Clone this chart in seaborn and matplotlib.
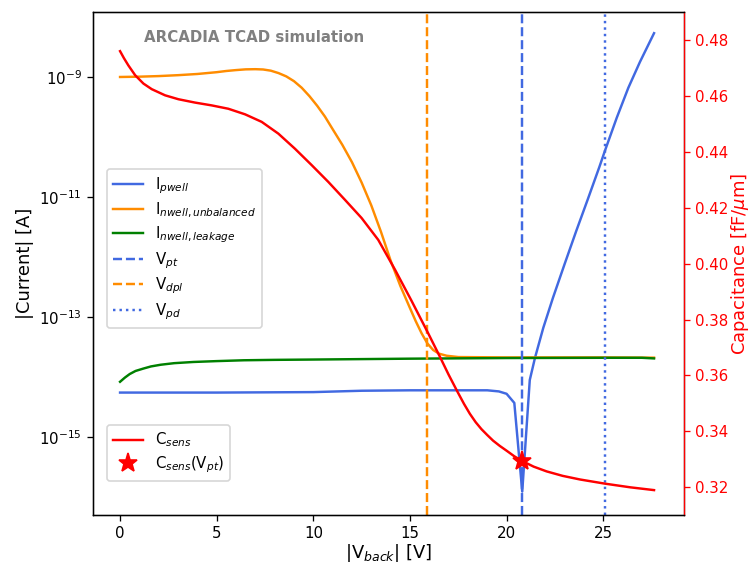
import matplotlib
matplotlib.use("Agg")
import matplotlib.pyplot as plt
import seaborn as sns
import numpy as np
from matplotlib.ticker import NullLocator

# ---------------- data ----------------
v_pwell = [0, 2.5, 5, 7.5, 10, 12.5, 15, 17.5, 19, 19.6, 20.0, 20.4, 20.81,
           21.2, 21.47, 21.9, 22.4, 23.0, 23.6, 24.2, 24.8, 25.1, 25.7, 26.3,
           26.9, 27.63]
i_pwell = [5.5e-15, 5.5e-15, 5.5e-15, 5.55e-15, 5.6e-15, 5.9e-15, 6.0e-15, 6.0e-15,
           6.0e-15, 5.75e-15, 5.25e-15, 3.7e-15, 1.23e-16,
           8.91e-15, 2.09e-14, 6.61e-14, 2.09e-13, 7.59e-13, 2.69e-12, 9.12e-12,
           3.16e-11, 6.03e-11, 2.09e-10, 6.61e-10, 1.78e-9, 5.37e-9]

v_unbal = [0, 1, 2, 3, 4, 5, 5.5, 6, 6.5, 7, 7.4, 7.8, 8.2, 8.6, 9.0, 9.4, 9.8,
           10.2, 10.6, 11.0, 11.5, 12, 12.5, 13, 13.5, 14, 14.5, 15, 15.3, 15.6,
           15.9, 16.2, 16.5, 16.9, 17.5, 20, 25, 27.63]
i_unbal = [1.0e-9, 1.012e-9, 1.035e-9, 1.072e-9, 1.122e-9, 1.202e-9, 1.259e-9,
           1.303e-9, 1.340e-9, 1.349e-9, 1.334e-9, 1.274e-9, 1.161e-9, 1.023e-9,
           8.51e-10, 6.61e-10, 4.79e-10, 3.31e-10, 2.19e-10, 1.35e-10, 7.41e-11,
           3.80e-11, 1.74e-11, 7.24e-12, 2.63e-12, 8.71e-13, 3.31e-13, 1.41e-13,
           8.51e-14, 5.37e-14, 3.63e-14, 2.82e-14, 2.45e-14, 2.26e-14, 2.15e-14,
           2.12e-14, 2.12e-14, 2.10e-14]

v_leak = [0, 0.25, 0.5, 0.8, 1.2, 1.6, 2.1, 2.8, 3.8, 5, 6.4, 8, 9.7, 15, 20,
          25, 27, 27.63]
i_leak = [8.32e-15, 9.77e-15, 1.12e-14, 1.26e-14, 1.38e-14, 1.50e-14, 1.60e-14,
          1.70e-14, 1.78e-14, 1.84e-14, 1.90e-14, 1.93e-14, 1.95e-14, 2.02e-14,
          2.07e-14, 2.09e-14, 2.09e-14, 2.04e-14]

v_csens = [0, 0.2, 0.43, 0.78, 1.21, 1.64, 2.33, 3.02, 3.88, 4.74, 5.6, 6.47,
           7.33, 8.19, 9.05, 9.92, 10.78, 11.64, 12.5, 13.36, 14.23, 15.09, 15.95,
           16.55, 17.0, 17.45, 17.8, 18.1, 18.4, 18.7, 19.0, 19.3, 19.65, 20.0,
           20.4, 20.81, 21.4, 22.07, 22.9, 23.8, 25.1, 26.4, 27.63]
c_sens = [0.4760, 0.4735, 0.4709, 0.4674, 0.4644, 0.4624, 0.4602, 0.4588, 0.4576,
          0.4566, 0.4554, 0.4534, 0.4507, 0.4465, 0.4411, 0.4352, 0.4292, 0.4228,
          0.4163, 0.4085, 0.3978, 0.3866, 0.3750, 0.3667, 0.3603, 0.3543, 0.3498,
          0.3463, 0.3433, 0.3408, 0.3387, 0.3367, 0.3348, 0.3331, 0.3311, 0.3294,
          0.3274, 0.3257, 0.3241, 0.3228, 0.3213, 0.3200, 0.3190]

v_pt = 20.81
v_dpl = 15.9
v_pd = 25.1
c_at_vpt = 0.3294

left_ticks = [1e-9, 1e-11, 1e-13, 1e-15]
x_ticks = [0, 5, 10, 15, 20, 25]
right_ticks = [0.32, 0.34, 0.36, 0.38, 0.40, 0.42, 0.44, 0.46, 0.48]

# ---------------- figure ----------------
FS = 9.2
plt.rcParams.update({"xtick.labelsize": FS, "ytick.labelsize": FS,
                     "legend.fontsize": FS, "legend.labelspacing": 0.33})
DPI = 117.1875
fig = plt.figure(figsize=(750 / DPI, 564 / DPI), dpi=DPI)
ax = fig.add_axes([93 / 750, 1 - 515 / 564, (684 - 93) / 750, (515 - 12) / 564])
ax.set_yscale("log")

c_blue, c_orange, c_green = "royalblue", "darkorange", "green"

sns.lineplot(x=v_pwell, y=i_pwell, ax=ax, color=c_blue, lw=1.5, estimator=None,
             sort=False, label=r"I$_{pwell}$")
sns.lineplot(x=v_unbal, y=i_unbal, ax=ax, color=c_orange, lw=1.5, estimator=None,
             sort=False, label=r"I$_{nwell, unbalanced}$")
sns.lineplot(x=v_leak, y=i_leak, ax=ax, color=c_green, lw=1.5, estimator=None,
             sort=False, label=r"I$_{nwell, leakage}$")
ax.axvline(v_pt, color=c_blue, ls="--", lw=1.5, label=r"V$_{pt}$")
ax.axvline(v_dpl, color=c_orange, ls="--", lw=1.5, label=r"V$_{dpl}$")
ax.axvline(v_pd, color=c_blue, ls=":", lw=1.5, label=r"V$_{pd}$")

ax.set_xlim(-1.4, 29.18)
ax.set_ylim(10 ** -16.3, 10 ** -7.917)
ax.set_yticks(left_ticks)
ax.yaxis.set_minor_locator(NullLocator())
ax.set_xticks(x_ticks)
ax.set_xlabel(r"|V$_{back}$| [V]", fontsize=11, labelpad=0.3)
ax.set_ylabel("|Current| [A]", fontsize=11, labelpad=3)

h, l = ax.get_legend_handles_labels()
ax.legend(h, l, loc="upper left", bbox_to_anchor=(0.0237, 0.688),
          borderaxespad=0)

ax.text(0.0863, 0.950, "ARCADIA TCAD simulation", transform=ax.transAxes,
        ha="left", va="center", fontsize=FS, fontweight="bold", color="gray")

ax2 = ax.twinx()
sns.lineplot(x=v_csens, y=c_sens, ax=ax2, color="red", lw=1.5, estimator=None,
             sort=False, label=r"C$_{sens}$")
ax2.plot([v_pt], [c_at_vpt], marker="*", color="red", ms=12, ls="none",
         label=r"C$_{sens}$(V$_{pt}$)")
ax2.set_ylim(0.3101, 0.49)
ax2.set_yticks(right_ticks)
ax2.set_yticklabels([f"{t:.2f}" for t in right_ticks])
ax2.set_ylabel(r"Capacitance [fF/$\mu$m]", color="red", fontsize=11, labelpad=0)
ax2.tick_params(axis="y", colors="red")
ax2.spines["right"].set_color("red")
h2, l2 = ax2.get_legend_handles_labels()
ax2.legend(h2, l2, loc="lower left", bbox_to_anchor=(0.0237, 0.0676),
           borderaxespad=0)

fig.savefig("out.png", dpi=DPI)
